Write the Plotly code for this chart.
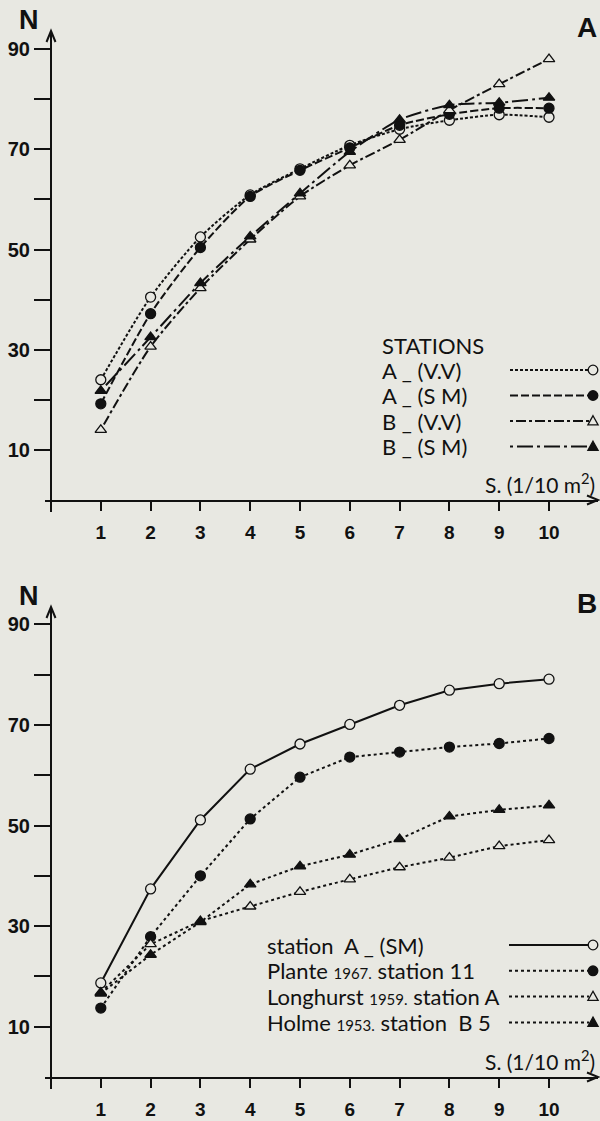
import plotly.graph_objects as go

# ---------------- data ----------------
S = [1, 2, 3, 4, 5, 6, 7, 8, 9, 10]

# Panel A
A_VV = [24.0, 40.5, 52.5, 60.9, 66.1, 70.8, 74.0, 75.8, 76.9, 76.4]
A_SM = [19.2, 37.2, 50.4, 60.6, 65.8, 70.3, 74.8, 77.0, 78.2, 78.2]
B_VV = [14.0, 30.6, 42.3, 52.0, 60.6, 66.8, 71.9, 77.8, 83.0, 88.0]
B_SM = [21.8, 32.5, 43.3, 52.6, 61.2, 69.5, 75.9, 78.8, 79.3, 80.3]

# Panel B
STATION_A_SM = [18.7, 37.4, 51.1, 61.2, 66.2, 70.1, 73.9, 76.9, 78.2, 79.1]
PLANTE_1967 = [13.7, 27.9, 40.0, 51.3, 59.6, 63.6, 64.6, 65.6, 66.3, 67.3]
LONGHURST_1959 = [16.8, 26.4, 31.0, 33.9, 36.8, 39.3, 41.7, 43.6, 45.9, 47.1]
HOLME_1953 = [16.6, 24.3, 30.8, 38.3, 41.9, 44.2, 47.3, 51.8, 53.1, 54.0]

X_TICKS = [1, 2, 3, 4, 5, 6, 7, 8, 9, 10]
X_TICKTEXT = ["1", "2", "3", "4", "5", "6", "7", "8", "9", "10"]
X_MINOR = [0]
Y_TICKS = [10, 30, 50, 70, 90]
Y_TICKTEXT = ["10", "30", "50", "70", "90"]
Y_MINOR = [20, 40, 60, 80]

LEGEND_A = ["A _ (V.V)", "A _ (S M)", "B _ (V.V)", "B _ (S M)"]
LEGEND_B = [
    "station  A _ (SM)",
    "Plante <span style='font-size:15px'>1967.</span> station 11",
    "Longhurst <span style='font-size:15px'>1959.</span> station A",
    "Holme <span style='font-size:15px'>1953.</span> station  B 5",
]

# ---------------- styles ----------------
W, H = 600, 1121
BG = "#e8e8e2"
INK = "#111111"
TICKFONT = dict(family="Liberation Sans, Arial", size=20, color=INK, weight="bold")
XTICKFONT = dict(family="Liberation Sans, Arial", size=19, color=INK, weight="bold")
LEGFONT = dict(family="Lato, Noto Sans", size=22, color=INK)

DOT = "3px,2px"
A_SM_DASH = "8px,3px"
B_VV_DASH = "3px,3px,10px,3px"
B_SM_DASH = "3px,4px,16px,4px"
B_DOT = "3px,3px"

X_LEFT_PX, X_RIGHT_PX, YAXIS_PX, PX_PER_X = 45, 598, 51, 49.8
XR = [(X_LEFT_PX - YAXIS_PX) / PX_PER_X, (X_RIGHT_PX - YAXIS_PX) / PX_PER_X]

# panel A: x axis at pixel 500, arrow tip 31 ; panel B: axis 1077, tip 607
A_BOTTOM, A_TOP, A_SCALE = 500, 31, 5.01
B_BOTTOM, B_TOP, B_SCALE = 1077, 607, 5.03


def fy(p):
    return 1 - p / H


def fx(p):
    return p / W


fig = go.Figure()

series_A = [
    (A_VV, DOT, "circle", BG),
    (A_SM, A_SM_DASH, "circle", INK),
    (B_VV, B_VV_DASH, "triangle-up", BG),
    (B_SM, B_SM_DASH, "triangle-up", INK),
]
series_B = [
    (STATION_A_SM, "solid", "circle", BG),
    (PLANTE_1967, B_DOT, "circle", INK),
    (LONGHURST_1959, B_DOT, "triangle-up", BG),
    (HOLME_1953, B_DOT, "triangle-up", INK),
]

# lines first
for vals, dash, sym, fill in series_A:
    fig.add_trace(go.Scatter(x=S, y=vals, mode="lines", xaxis="x", yaxis="y",
                             line=dict(color=INK, width=2, dash=dash, shape="spline", smoothing=0.7),
                             hoverinfo="skip"))
for vals, dash, sym, fill in series_B:
    fig.add_trace(go.Scatter(x=S, y=vals, mode="lines", xaxis="x2", yaxis="y2",
                             line=dict(color=INK, width=2, dash=dash),
                             hoverinfo="skip"))
# markers on top
for vals, dash, sym, fill in series_A:
    fig.add_trace(go.Scatter(x=S, y=vals, mode="markers", xaxis="x", yaxis="y",
                             marker=dict(symbol=sym, size=10, color=fill, line=dict(color=INK, width=1.3))))
for vals, dash, sym, fill in series_B:
    fig.add_trace(go.Scatter(x=S, y=vals, mode="markers", xaxis="x2", yaxis="y2",
                             marker=dict(symbol=sym, size=10, color=fill, line=dict(color=INK, width=1.3))))


def xaxis_cfg(anchor):
    return dict(domain=[fx(X_LEFT_PX), fx(X_RIGHT_PX)], range=XR, anchor=anchor,
                showline=True, linecolor=INK, linewidth=2, ticks="outside", ticklen=9,
                tickwidth=2, tickcolor=INK, tickvals=X_TICKS, ticktext=X_TICKTEXT,
                minor=dict(tickvals=X_MINOR, ticks="outside", ticklen=10, tickwidth=2, tickcolor=INK),
                tickfont=XTICKFONT, showgrid=False, zeroline=False, ticklabelstandoff=5,
                fixedrange=True)


def yaxis_cfg(bottom, top, scale):
    return dict(domain=[fy(bottom), fy(top)], range=[0, (bottom - top) / scale],
                anchor="free", position=fx(YAXIS_PX), showline=True, linecolor=INK,
                linewidth=2, ticks="outside", ticklen=16, tickwidth=2, tickcolor=INK,
                tickvals=Y_TICKS, ticktext=Y_TICKTEXT, tickfont=TICKFONT,
                minor=dict(tickvals=Y_MINOR, ticks="outside", ticklen=16, tickwidth=2, tickcolor=INK),
                showgrid=False, zeroline=False, ticklabelstandoff=0, fixedrange=True)


fig.update_layout(
    width=W, height=H, margin=dict(l=0, r=0, t=0, b=0),
    paper_bgcolor=BG, plot_bgcolor="rgba(0,0,0,0)", showlegend=False,
    xaxis=xaxis_cfg("y"), yaxis=yaxis_cfg(A_BOTTOM, A_TOP, A_SCALE),
    xaxis2=xaxis_cfg("y2"), yaxis2=yaxis_cfg(B_BOTTOM, B_TOP, B_SCALE),
)

shapes = []
annotations = []


def path(points, close=False):
    s = "M " + " L ".join(f"{fx(px)},{fy(py)}" for px, py in points)
    return s + (" Z" if close else "")


for bottom, top, letter in [(A_BOTTOM, A_TOP, "A"), (B_BOTTOM, B_TOP, "B")]:
    # arrow heads
    shapes.append(dict(type="path", xref="paper", yref="paper",
                       path=path([(YAXIS_PX - 4.5, top + 11), (YAXIS_PX, top), (YAXIS_PX + 4.5, top + 11)]),
                       line=dict(color=INK, width=2)))
    shapes.append(dict(type="path", xref="paper", yref="paper",
                       path=path([(X_RIGHT_PX - 11, bottom - 4.5), (X_RIGHT_PX, bottom), (X_RIGHT_PX - 11, bottom + 4.5)]),
                       line=dict(color=INK, width=2)))
    annotations.append(dict(text="N", x=fx(29), y=fy(top - 11), xref="paper", yref="paper",
                            showarrow=False, xanchor="center", yanchor="middle",
                            font=dict(family="Liberation Sans, Arial", size=27, color=INK, weight="bold")))
    annotations.append(dict(text=letter, x=fx(599), y=fy(top - 4), xref="paper", yref="paper",
                            showarrow=False, xanchor="right", yanchor="middle",
                            font=dict(family="Liberation Sans, Arial", size=28, color=INK, weight="bold")))
    annotations.append(dict(text="S. (1/10 m<sup>2</sup>)", x=fx(597), y=fy(bottom - 17),
                            xref="paper", yref="paper", showarrow=False, xanchor="right",
                            yanchor="middle", font=dict(family="Lato, Noto Sans", size=21, color=INK)))


def legend_marker(xm, ym, sym, fill, r=4.8):
    if sym == "circle":
        shapes.append(dict(type="circle", xref="paper", yref="paper",
                           x0=fx(xm - r), x1=fx(xm + r), y0=fy(ym + r), y1=fy(ym - r),
                           fillcolor=fill, line=dict(color=INK, width=1.3)))
    else:
        shapes.append(dict(type="path", xref="paper", yref="paper",
                           path=path([(xm, ym - r - 0.5), (xm + r + 0.3, ym + r * 0.8), (xm - r - 0.3, ym + r * 0.8)], True),
                           fillcolor=fill, line=dict(color=INK, width=1.3)))


# Legend A
annotations.append(dict(text="STATIONS", x=fx(380), y=fy(345), xref="paper", yref="paper",
                        showarrow=False, xanchor="left", yanchor="middle", font=LEGFONT))
for i, (label, (vals, dash, sym, fill)) in enumerate(zip(LEGEND_A, series_A)):
    ym = 370 + i * 25.5
    annotations.append(dict(text=label, x=fx(380), y=fy(ym), xref="paper", yref="paper",
                            showarrow=False, xanchor="left", yanchor="middle", font=LEGFONT))
    shapes.append(dict(type="line", xref="paper", yref="paper", x0=fx(510), x1=fx(589),
                       y0=fy(ym), y1=fy(ym), line=dict(color=INK, width=2, dash=dash)))
    legend_marker(593, ym, sym, fill)

# Legend B
for i, (label, (vals, dash, sym, fill)) in enumerate(zip(LEGEND_B, series_B)):
    ym = 945 + i * 25.8
    annotations.append(dict(text=label, x=fx(265), y=fy(ym), xref="paper", yref="paper",
                            showarrow=False, xanchor="left", yanchor="middle", font=LEGFONT))
    shapes.append(dict(type="line", xref="paper", yref="paper", x0=fx(509), x1=fx(589),
                       y0=fy(ym), y1=fy(ym), line=dict(color=INK, width=2, dash=dash)))
    legend_marker(593, ym, sym, fill)

fig.update_layout(shapes=shapes, annotations=annotations)
fig.write_html("out.html", config={"displayModeBar": False},
               post_script="document.body.style.margin='0';document.body.style.overflow='hidden';")
